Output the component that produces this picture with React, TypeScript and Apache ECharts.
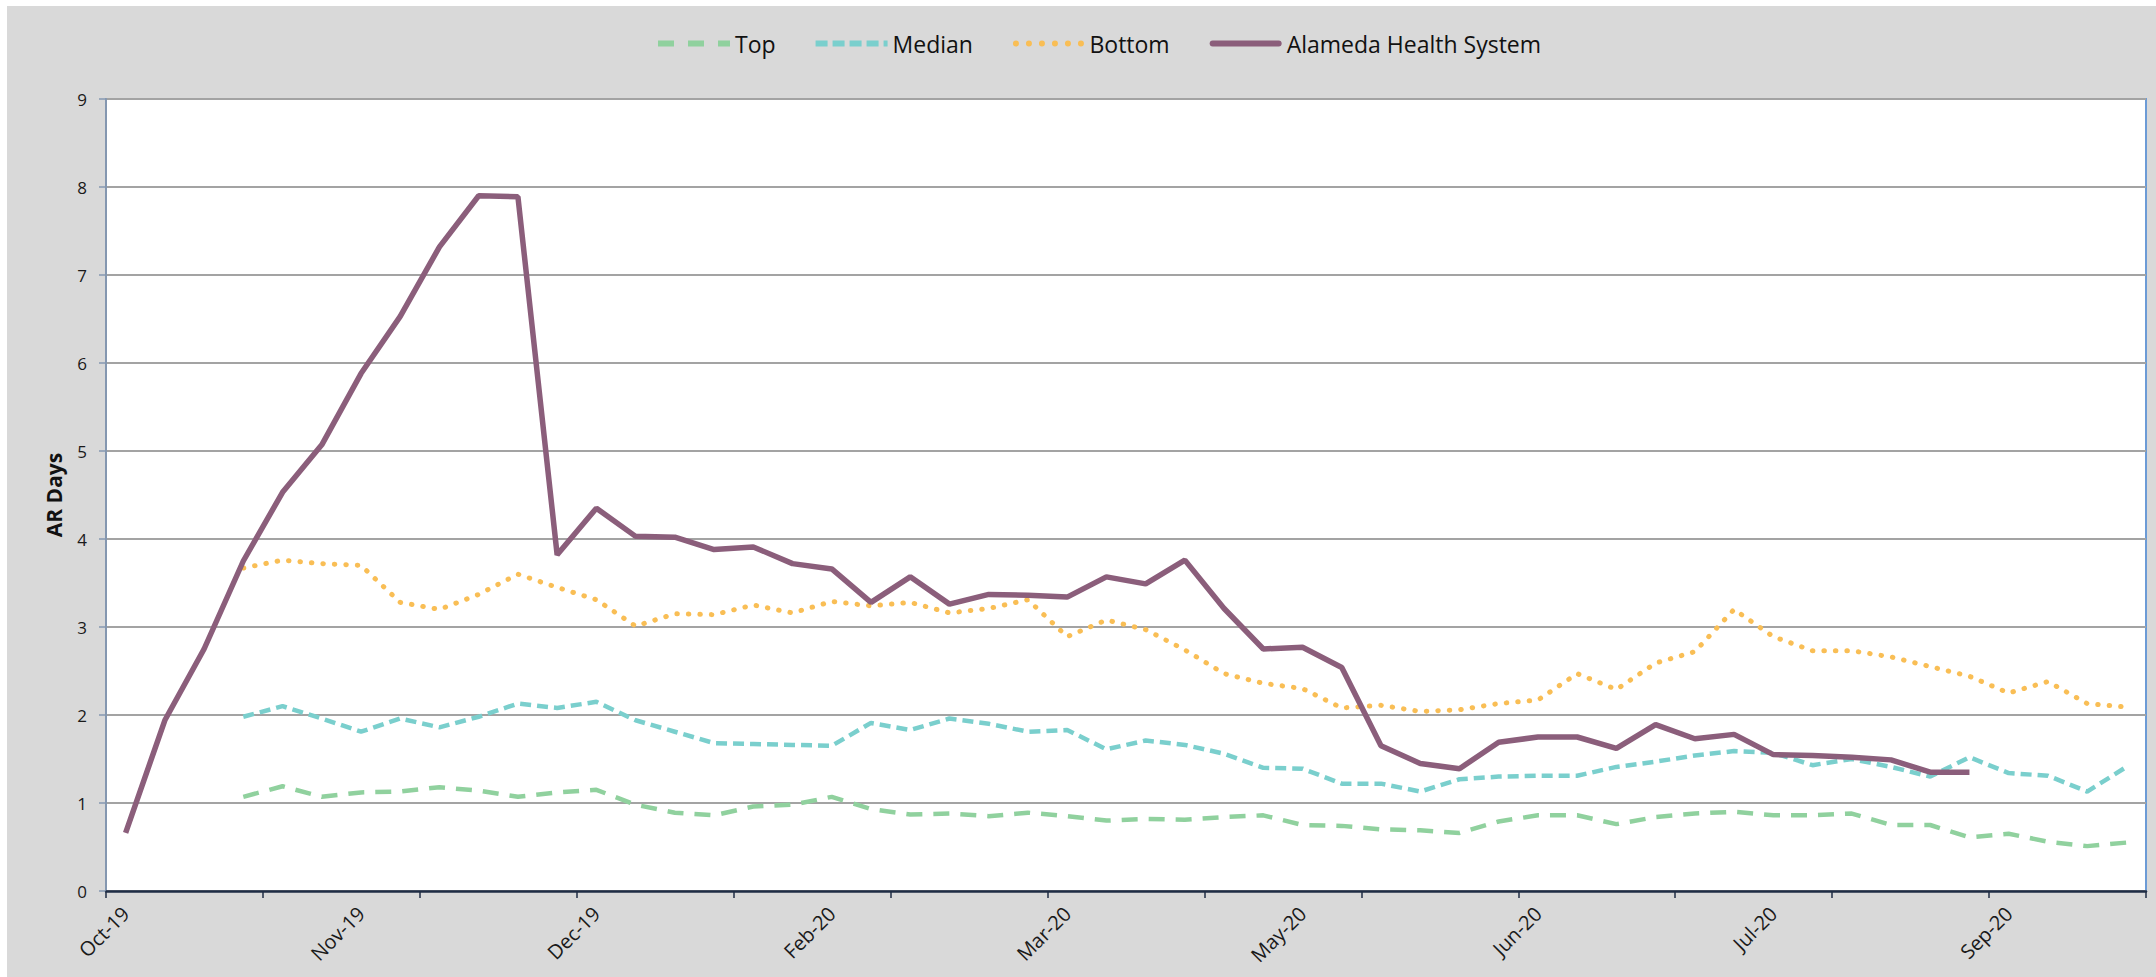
import React, { useEffect, useRef } from "react";
import * as echarts from "echarts";

const categories: string[] = [
  "Oct-19", "Oct-19", "Oct-19", "Oct-19",
  "Nov-19", "Nov-19", "Nov-19", "Nov-19",
  "Dec-19", "Dec-19", "Dec-19", "Dec-19", "Dec-19",
  "Jan-20", "Jan-20", "Jan-20", "Jan-20",
  "Feb-20", "Feb-20", "Feb-20", "Feb-20",
  "Mar-20", "Mar-20", "Mar-20", "Mar-20", "Mar-20",
  "Apr-20", "Apr-20", "Apr-20", "Apr-20",
  "May-20", "May-20", "May-20", "May-20", "May-20",
  "Jun-20", "Jun-20", "Jun-20", "Jun-20",
  "Jul-20", "Jul-20", "Jul-20", "Jul-20",
  "Aug-20", "Aug-20", "Aug-20", "Aug-20", "Aug-20",
  "Sep-20", "Sep-20", "Sep-20", "Sep-20",
];

const topValues: (number | null)[] = [
  null, null, null, 1.07, 1.19, 1.07, 1.12, 1.13, 1.18, 1.14,
  1.07, 1.12, 1.15, 0.98, 0.89, 0.86, 0.96, 0.98, 1.07, 0.93,
  0.87, 0.88, 0.85, 0.89, 0.85, 0.80, 0.82, 0.81, 0.84, 0.86,
  0.75, 0.74, 0.70, 0.69, 0.66, 0.79, 0.86, 0.86, 0.76, 0.84,
  0.88, 0.90, 0.86, 0.86, 0.88, 0.75, 0.75, 0.61, 0.65, 0.56,
  0.51, 0.55,
];

const medianValues: (number | null)[] = [
  null, null, null, 1.98, 2.10, 1.96, 1.81, 1.96, 1.86, 1.98,
  2.13, 2.08, 2.15, 1.94, 1.81, 1.68, 1.67, 1.66, 1.65, 1.91,
  1.83, 1.96, 1.90, 1.81, 1.83, 1.61, 1.71, 1.66, 1.56, 1.40,
  1.39, 1.22, 1.22, 1.13, 1.27, 1.30, 1.31, 1.31, 1.41, 1.47,
  1.54, 1.59, 1.57, 1.43, 1.50, 1.41, 1.30, 1.52, 1.34, 1.31,
  1.13, 1.41,
];

const bottomValues: (number | null)[] = [
  null, null, null, 3.67, 3.76, 3.72, 3.70, 3.28, 3.20, 3.37,
  3.60, 3.45, 3.31, 3.01, 3.15, 3.14, 3.25, 3.16, 3.29, 3.24,
  3.28, 3.16, 3.21, 3.31, 2.89, 3.08, 2.97, 2.74, 2.47, 2.36,
  2.30, 2.08, 2.11, 2.04, 2.06, 2.13, 2.17, 2.47, 2.29, 2.59,
  2.72, 3.20, 2.89, 2.73, 2.73, 2.66, 2.55, 2.44, 2.25, 2.38,
  2.13, 2.09,
];

const alamedaValues: (number | null)[] = [
  0.66, 1.94, 2.75, 3.75, 4.53, 5.07, 5.88, 6.53, 7.32, 7.90,
  7.89, 3.82, 4.35, 4.03, 4.02, 3.88, 3.91, 3.72, 3.66, 3.28,
  3.57, 3.26, 3.37, 3.36, 3.34, 3.57, 3.49, 3.76, 3.21, 2.75,
  2.77, 2.54, 1.65, 1.45, 1.39, 1.69, 1.75, 1.75, 1.62, 1.89,
  1.73, 1.78, 1.55, 1.54, 1.52, 1.49, 1.35, 1.35,
];

const FONT = "'Open Sans', 'Noto Sans', sans-serif";

const COLORS = {
  top: "#90D19E",
  median: "#7ACFCD",
  bottom: "#F9BE55",
  alameda: "#8B5E7B",
};

// legend icons (72 x 6 boxes)
const ICON_TOP = "path://M0,0H16V6H0Z M30,0H46V6H30Z M60,0H72V6H60Z";
const ICON_MEDIAN = "path://M0,0H12V6H0Z M17,0H29V6H17Z M34,0H46V6H34Z M51,0H63V6H51Z M68,0H72V6H68Z";
const ICON_BOTTOM =
  "path://M3,0A3,3 0 1 1 3,6A3,3 0 1 1 3,0Z M16,0A3,3 0 1 1 16,6A3,3 0 1 1 16,0Z M29,0A3,3 0 1 1 29,6A3,3 0 1 1 29,0Z M42,0A3,3 0 1 1 42,6A3,3 0 1 1 42,0Z M55,0A3,3 0 1 1 55,6A3,3 0 1 1 55,0Z M68,0A3,3 0 1 1 68,6A3,3 0 1 1 68,0Z";
const ICON_ALAMEDA = "path://M3,0H69A3,3 0 0 1 69,6H3A3,3 0 0 1 3,0Z";

export default function App() {
  const ref = useRef<HTMLDivElement>(null);

  useEffect(() => {
    if (!ref.current) return;
    const chart = echarts.init(ref.current, undefined, { renderer: "svg" });
    chart.setOption({
      animation: false,
      backgroundColor: "#D9D9D9",
      textStyle: { fontFamily: FONT },
      legend: {
        top: 21,
        left: 646,
        itemWidth: 72,
        itemHeight: 6,
        itemGap: 40,
        textStyle: { fontSize: 23, color: "#111", fontFamily: FONT },
        data: [
          { name: "Top", icon: ICON_TOP },
          { name: "Median", icon: ICON_MEDIAN },
          { name: "Bottom", icon: ICON_BOTTOM },
          { name: "Alameda Health System", icon: ICON_ALAMEDA },
        ],
      },
      grid: {
        left: 99,
        top: 93,
        right: 10,
        bottom: 86,
        show: true,
        backgroundColor: "#FFFFFF",
        borderColor: "#6C9BD6",
        borderWidth: 2,
      },
      xAxis: {
        type: "category",
        data: categories,
        boundaryGap: true,
        axisLine: { show: true, lineStyle: { color: "#1F2D45", width: 2.5 } },
        axisTick: { show: true, interval: 3, length: 7, lineStyle: { color: "#1F2D45", width: 1.5 } },
        axisLabel: {
          interval: 5,
          rotate: 45,
          fontSize: 20,
          color: "#1a1a1a",
          margin: 19,
          fontFamily: FONT,
        },
        splitLine: { show: false },
      },
      yAxis: {
        type: "value",
        min: 0,
        max: 9,
        interval: 1,
        name: "AR Days",
        nameLocation: "middle",
        nameGap: 42,
        nameTextStyle: { fontSize: 21, fontWeight: "bold", color: "#111", fontFamily: FONT },
        axisLine: { show: true, lineStyle: { color: "#8497B0", width: 2 } },
        axisTick: { show: true, length: 7, lineStyle: { color: "#8497B0", width: 1.5 } },
        axisLabel: { fontSize: 17, color: "#1a1a1a", margin: 19, fontFamily: FONT },
        splitLine: { show: true, lineStyle: { color: "#A3A3A3", width: 2 } },
      },
      series: [
        {
          name: "Top",
          type: "line",
          data: topValues,
          symbol: "none",
          lineStyle: { color: COLORS.top, width: 4.5, type: [16, 11] },
          itemStyle: { color: COLORS.top },
        },
        {
          name: "Median",
          type: "line",
          data: medianValues,
          symbol: "none",
          lineStyle: { color: COLORS.median, width: 4.5, type: [11, 6] },
          itemStyle: { color: COLORS.median },
        },
        {
          name: "Bottom",
          type: "line",
          data: bottomValues,
          symbol: "none",
          lineStyle: { color: COLORS.bottom, width: 5, type: [0.5, 11], cap: "round" },
          itemStyle: { color: COLORS.bottom },
        },
        {
          name: "Alameda Health System",
          type: "line",
          data: alamedaValues,
          symbol: "none",
          lineStyle: { color: COLORS.alameda, width: 5.5 },
          itemStyle: { color: COLORS.alameda },
        },
      ],
    });
    return () => chart.dispose();
  }, []);

  return (
    <div
      ref={ref}
      style={{ position: "absolute", left: 7, top: 6, width: 2149, height: 971 }}
    />
  );
}
